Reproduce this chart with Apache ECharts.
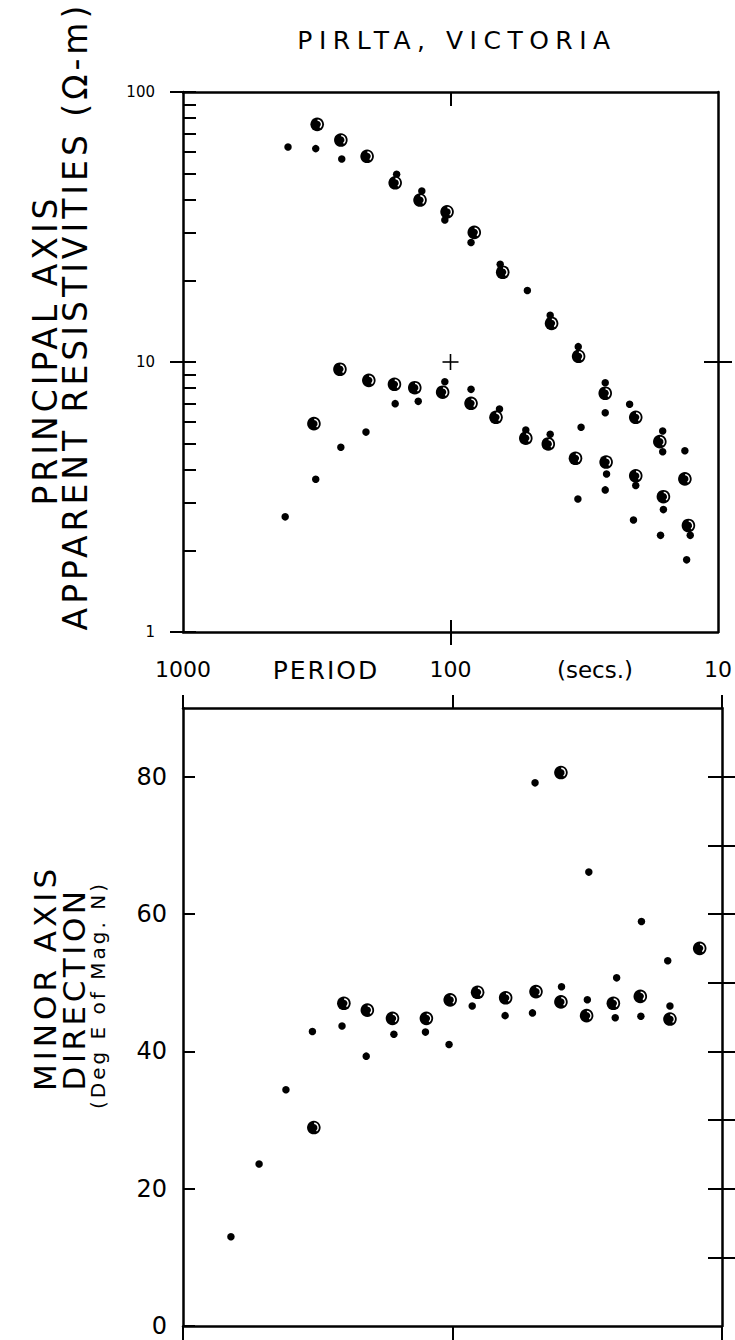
<!DOCTYPE html>
<html><head><meta charset="utf-8">
<script src="https://cdn.jsdelivr.net/npm/echarts@6/dist/echarts.min.js"></script>
<style>html,body{margin:0;padding:0;background:#fff}#c{width:735px;height:1340px}</style>
</head><body><div id="c"></div>
<script>
// ---------- data ----------
const periodTicks = [1000, 100, 10];
const rhoTicks = [1,2,3,4,5,6,7,8,9,10,20,30,40,50,60,70,80,90,100];
const rhoLabels = [1, 10, 100];
const dirLabels = [0, 20, 40, 60, 80];
const dirRightTicks = [10, 20, 30, 40, 50, 60, 70, 80];

// [period (s), apparent resistivity (ohm-m)]
const rhoMajorCircles = [[315,75.9],[257,66.4],[205,57.8],[161,46.1],[130,39.8],[103,36.0],[81.5,30.2],[63.8,21.5],[41.9,13.9],[33.2,10.5],[26.4,7.66],[20.3,6.24],[16.5,5.07],[13.3,3.69]];
const rhoMajorDots = [[405,62.6],[319,61.7],[255,56.5],[159,49.6],[128,43.0],[105,33.6],[83.8,27.7],[65.2,23.0],[51.6,18.4],[42.4,14.9],[33.3,11.4],[26.4,8.38],[21.4,6.97],[16.1,5.55],[13.3,4.69]];
const rhoMinorCircles = [[324,5.91],[259,9.4],[202,8.55],[162,8.27],[136,8.03],[107,7.73],[83.8,7.03],[67.6,6.24],[52.3,5.22],[43.1,4.97],[34.1,4.40],[26.2,4.26],[20.3,3.79],[16.0,3.17],[12.9,2.48]];
const rhoMinorDots = [[415,2.67],[319,3.68],[257,4.83],[207,5.50],[161,7.01],[132,7.15],[105,8.45],[83.8,7.92],[65.6,6.70],[52.3,5.60],[42.4,5.40],[32.5,5.73],[33.4,3.11],[26.4,6.49],[26.1,3.85],[26.4,3.36],[20.7,2.60],[20.3,3.49],[16.1,4.65],[16.0,2.84],[16.4,2.28],[12.7,2.28],[13.1,1.85]];
const rhoCross = [[100, 10]];

// [period (s), direction (deg E of mag. N)]
const dirCircles = [[327,28.9],[253,47.0],[207,46.0],[167,44.8],[125,44.8],[102,47.5],[80.7,48.6],[63.5,47.8],[49.0,48.7],[39.6,80.6],[39.6,47.2],[31.8,45.2],[25.3,47.0],[20.1,48.0],[15.6,44.7],[12.1,55.0]];
const dirDots = [[664,13.0],[522,23.6],[415,34.4],[331,42.9],[257,43.7],[209,39.3],[165,42.5],[126,42.8],[103,41.0],[84.5,46.6],[63.8,45.2],[50.5,45.6],[49.4,79.1],[39.4,49.4],[31.6,47.5],[31.2,66.1],[24.9,44.9],[24.6,50.7],[20.0,45.1],[19.9,58.9],[15.6,46.6],[15.9,53.2]];

// ---------- chart ----------
const FONT = 'DejaVu Sans';
const BLACK = '#000';
const AXLINE = {show: true, onZero: false, lineStyle: {color: BLACK, width: 2.5}};
const NOLINE = {show: false};
const tick = (inside, length, values) => ({show: true, inside, length, customValues: values, lineStyle: {color: BLACK, width: 2}});
const NOLABEL = {show: false};
const NOSPLIT = {show: false};
const fmt = v => String(Math.round(v));

function xLog(grid, position, line, axisTick, axisLabel) {
  return {gridIndex: grid, type: 'log', logBase: 10, min: 10, max: 1000, inverse: true, position,
    axisLine: line, axisTick, axisLabel: axisLabel || NOLABEL, splitLine: NOSPLIT};
}
function yAx(grid, kind, position, line, axisTick, axisLabel) {
  const base = kind === 'log' ? {type: 'log', logBase: 10, min: 1, max: 100} : {type: 'value', min: 0, max: 90};
  return Object.assign(base, {gridIndex: grid, position, axisLine: line, axisTick,
    axisLabel: axisLabel || NOLABEL, splitLine: NOSPLIT});
}

function bigCircle(params, api) {
  const p = api.coord([api.value(0), api.value(1)]);
  return {type: 'group', children: [
    {type: 'circle', shape: {cx: p[0], cy: p[1], r: 6.8}, style: {fill: BLACK}},
    {type: 'arc', shape: {cx: p[0], cy: p[1], r: 4.3, startAngle: -1.5, endAngle: 0.9, clockwise: true},
      style: {stroke: '#fff', lineWidth: 1.3, fill: null}}
  ]};
}
function cross(params, api) {
  const p = api.coord([api.value(0), api.value(1)]);
  const h = 8;
  return {type: 'group', children: [
    {type: 'line', shape: {x1: p[0] - h, y1: p[1], x2: p[0] + h, y2: p[1]}, style: {stroke: BLACK, lineWidth: 1.6}},
    {type: 'line', shape: {x1: p[0], y1: p[1] - h, x2: p[0], y2: p[1] + h}, style: {stroke: BLACK, lineWidth: 1.6}}
  ]};
}
const custom = (data, xi, yi, fn) => ({type: 'custom', coordinateSystem: 'cartesian2d', xAxisIndex: xi, yAxisIndex: yi,
  renderItem: fn, data, clip: false, silent: true, z: 3});
const dots = (data, xi, yi) => ({type: 'scatter', xAxisIndex: xi, yAxisIndex: yi, data, symbol: 'circle', symbolSize: 7.5,
  itemStyle: {color: BLACK, opacity: 1}, silent: true, z: 2});

function txt(text, x, y, size, rot) {
  return {type: 'text', x, y, rotation: rot || 0, silent: true,
    style: {text, fontSize: size, fontFamily: FONT, fill: BLACK, align: 'center', verticalAlign: 'middle',
      textAlign: 'center', textVerticalAlign: 'middle'}};
}

const chart = echarts.init(document.getElementById('c'), null, {renderer: 'svg', width: 735, height: 1340});
const option = {
  animation: false,
  backgroundColor: '#fff',
  textStyle: {fontFamily: FONT, color: BLACK},
  grid: [
    {left: 183, top: 92, width: 539, height: 540},
    {left: 183, top: 708, width: 539, height: 618}
  ],
  xAxis: [
    xLog(0, 'bottom', AXLINE, tick(false, 13, [100]),
      {show: true, customValues: periodTicks, formatter: fmt, margin: 26, fontSize: 22, color: BLACK, fontFamily: FONT}),
    xLog(0, 'bottom', NOLINE, tick(true, 12, [100])),
    xLog(0, 'top', AXLINE, tick(true, 14, [100])),
    xLog(1, 'top', AXLINE, tick(false, 13, periodTicks)),
    xLog(1, 'bottom', AXLINE, tick(false, 14, periodTicks))
  ],
  yAxis: [
    yAx(0, 'log', 'left', AXLINE, tick(true, 13, rhoTicks),
      {show: true, customValues: rhoLabels, formatter: fmt, margin: 28, fontSize: 15, color: BLACK, fontFamily: FONT}),
    yAx(0, 'log', 'left', NOLINE, tick(false, 13, rhoLabels)),
    yAx(0, 'log', 'right', AXLINE, tick(true, 14, [10])),
    yAx(0, 'log', 'right', NOLINE, tick(false, 14, [10])),
    yAx(1, 'value', 'left', AXLINE, tick(true, 12, dirLabels),
      {show: true, customValues: dirLabels, formatter: fmt, margin: 16, fontSize: 24, color: BLACK, fontFamily: FONT}),
    yAx(1, 'value', 'right', AXLINE, tick(true, 14, dirRightTicks)),
    yAx(1, 'value', 'right', NOLINE, tick(false, 14, dirRightTicks))
  ],
  series: [
    dots(rhoMajorDots, 0, 0),
    dots(rhoMinorDots, 0, 0),
    custom(rhoMajorCircles, 0, 0, bigCircle),
    custom(rhoMinorCircles, 0, 0, bigCircle),
    custom(rhoCross, 0, 0, cross),
    dots(dirDots, 4, 4),
    custom(dirCircles, 4, 4, bigCircle)
  ],
  graphic: [
    txt('PIRLTA, VICTORIA', 457, 40, 25),
    txt('PRINCIPAL AXIS', 45, 350, 33, Math.PI / 2),
    txt('APPARENT RESISTIVITIES (Ω-m)', 75, 316, 33, Math.PI / 2),
    txt('PERIOD', 326, 670, 25),
    txt('(secs.)', 595, 670, 23),
    txt('MINOR AXIS', 45, 978, 31, Math.PI / 2),
    txt('DIRECTION', 74, 989, 31, Math.PI / 2),
    txt('(Deg E of Mag. N)', 98, 995, 20, Math.PI / 2)
  ]
};
chart.setOption(option);

// wide lettering of the original hand lettering
const spacing = {
  'PIRLTA, VICTORIA': 6.5, 'PRINCIPAL AXIS': 4, 'APPARENT RESISTIVITIES (Ω-m)': 4,
  'PERIOD': 2, 'MINOR AXIS': 4, 'DIRECTION': 3.5, '(Deg E of Mag. N)': 3
};
function applySpacing() {
  document.querySelectorAll('#c svg text').forEach(t => {
    const s = spacing[t.textContent];
    if (s) t.style.letterSpacing = s + 'px';
  });
}
applySpacing();
chart.on('finished', applySpacing);
</script>
</body></html>
